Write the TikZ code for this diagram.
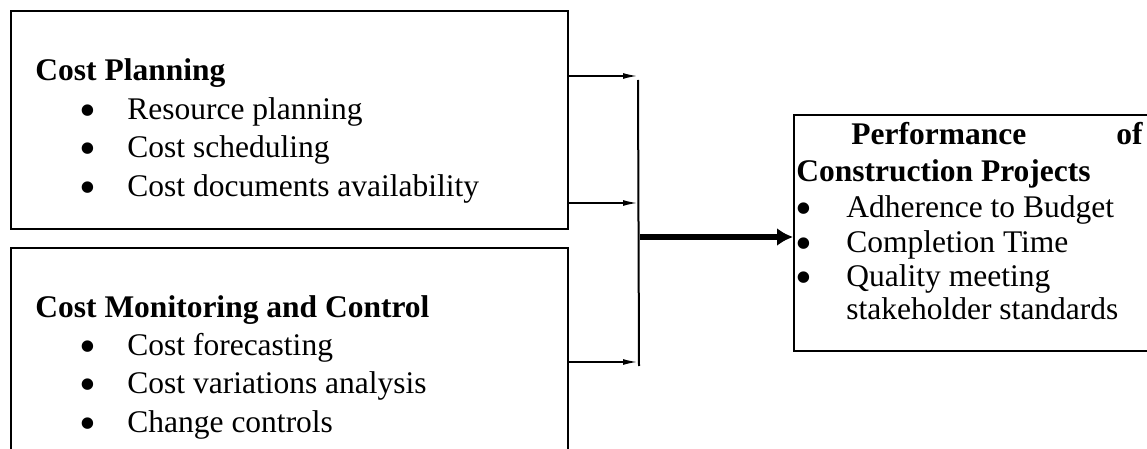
\documentclass[tikz,border=0pt]{standalone}
\usepackage{fontspec}
\setmainfont{Liberation Serif}
\usetikzlibrary{arrows.meta,positioning}

\begin{document}
\begin{tikzpicture}[x=0.5pt,y=-0.5pt,
	box/.style={draw, line width=1pt, inner sep=0pt, anchor=north west},
	head/.style={font=\fontsize{15.75}{19}\selectfont\bfseries, inner sep=0pt, anchor=base west},
	item/.style={font=\fontsize{15.75}{19}\selectfont, inner sep=0pt, anchor=base west},
	dot/.style={font=\fontsize{24}{24}\selectfont, inner sep=0pt, anchor=base, yshift=-3.5pt},
	feed/.style={-{Latex[length=7pt,width=3pt]}, line width=0.7pt},
	main/.style={-{Latex[length=8pt,width=9pt]}, line width=3pt}]
	\path[use as bounding box, clip] (0,0) rectangle (1147,449);
	% boxes
	\node[box, minimum width=278.5pt, minimum height=109pt] (plan) at (10,10) {};
	\node[box, minimum width=278.5pt, minimum height=120pt] (ctrl) at (10,247) {};
	\node[box, minimum width=180pt, minimum height=118pt] (perf) at (793,114) {};
	% cost planning
	\node[head] (planhead) at (35,81) {Cost Planning};
	\node[dot] (pd1) at (88,120) {\textbullet};
	\node[item] (pi1) at (127,120) {Resource planning};
	\node[dot] (pd2) at (88,158) {\textbullet};
	\node[item] (pi2) at (127,158) {Cost scheduling};
	\node[dot] (pd3) at (88,197) {\textbullet};
	\node[item] (pi3) at (127,197) {Cost documents availability};
	% cost monitoring and control
	\node[head] (ctrlhead) at (35,317) {Cost Monitoring and Control};
	\node[dot] (cd1) at (88,355) {\textbullet};
	\node[item] (ci1) at (127,355) {Cost forecasting};
	\node[dot] (cd2) at (88,393) {\textbullet};
	\node[item] (ci2) at (127,393) {Cost variations analysis};
	\node[dot] (cd3) at (88,432) {\textbullet};
	\node[item] (ci3) at (127,432) {Change controls};
	% performance
	\node[head] (perfhead) at (851,145) {Performance};
	\node[head, anchor=base east] (perfof) at (1143,145) {of};
	\node[head] (perfhead2) at (796,182) {Construction Projects};
	\node[dot] (fd1) at (804,218) {\textbullet};
	\node[item] (fi1) at (846,218) {Adherence to Budget};
	\node[dot] (fd2) at (804,252) {\textbullet};
	\node[item] (fi2) at (846,252) {Completion Time};
	\node[dot] (fd3) at (804,286) {\textbullet};
	\node[item] (fi3) at (846,286) {Quality meeting};
	\node[item] (fi4) at (846,319) {stakeholder standards};
	% connectors
	\coordinate (in1) at (637,76);
	\coordinate (in2) at (637,203);
	\coordinate (in3) at (637,362);
	\coordinate (bartop) at (638,80);
	\coordinate (barbot) at (639,366);
	\coordinate (hub) at (640,237);
	\draw[feed] (plan.east |- in1) -- (in1);
	\draw[feed] (plan.east |- in2) -- (in2);
	\draw[feed] (ctrl.east |- in3) -- (in3);
	\draw[line width=1pt] (bartop) -- (barbot);
	\draw[main] (hub) -- (perf.west |- hub);
\end{tikzpicture}
\end{document}
